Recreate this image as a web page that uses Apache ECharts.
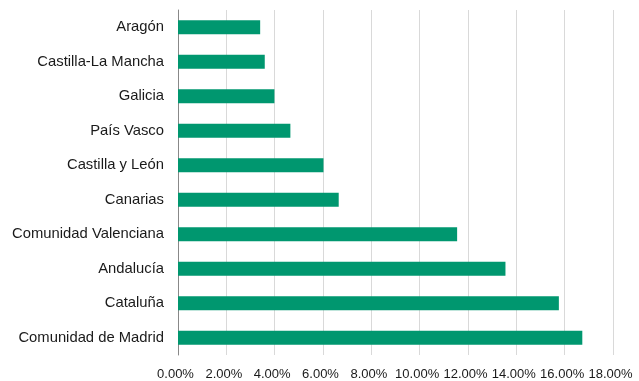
<!DOCTYPE html>
<html>
<head>
<meta charset="utf-8">
<script src="https://cdn.jsdelivr.net/npm/echarts@6/dist/echarts.min.js"></script>
<style>html,body{margin:0;padding:0;background:#fff}#c{width:639px;height:381px}</style>
</head>
<body>
<div id="c"></div>
<script>
const categories = ["Aragón","Castilla-La Mancha","Galicia","País Vasco","Castilla y León","Canarias","Comunidad Valenciana","Andalucía","Cataluña","Comunidad de Madrid"];
const values = [3.40, 3.59, 3.99, 4.65, 6.02, 6.65, 11.55, 13.55, 15.76, 16.73];
const tickMin = 0, tickMax = 18, tickStep = 2;

const chart = echarts.init(document.getElementById('c'), null, {renderer:'canvas'});
chart.setOption({
  animation: false,
  grid: {left: 178, right: 26, top: 10, bottom: 24, containLabel: false},
  xAxis: {
    type: 'value', min: tickMin, max: tickMax, interval: tickStep,
    axisLine: {show: false}, axisTick: {show: false},
    splitLine: {lineStyle: {color: '#d9d9d9', width: 1}},
    axisLabel: {formatter: v => v.toFixed(2) + '%', color: '#1a1a1a', fontSize: 13, fontFamily: 'Liberation Sans, Arial, sans-serif', margin: 13, padding: [0, 5, 0, 0]}
  },
  yAxis: {
    type: 'category', data: categories, inverse: true,
    axisLine: {show: true, lineStyle: {color: '#888', width: 1}},
    axisTick: {show: false},
    axisLabel: {color: '#1a1a1a', fontSize: 14.8, fontFamily: 'Liberation Sans, Arial, sans-serif', margin: 14}
  },
  series: [{
    type: 'bar', data: values, barWidth: 14,
    itemStyle: {color: '#00976f'}
  }]
});
</script>
</body>
</html>
